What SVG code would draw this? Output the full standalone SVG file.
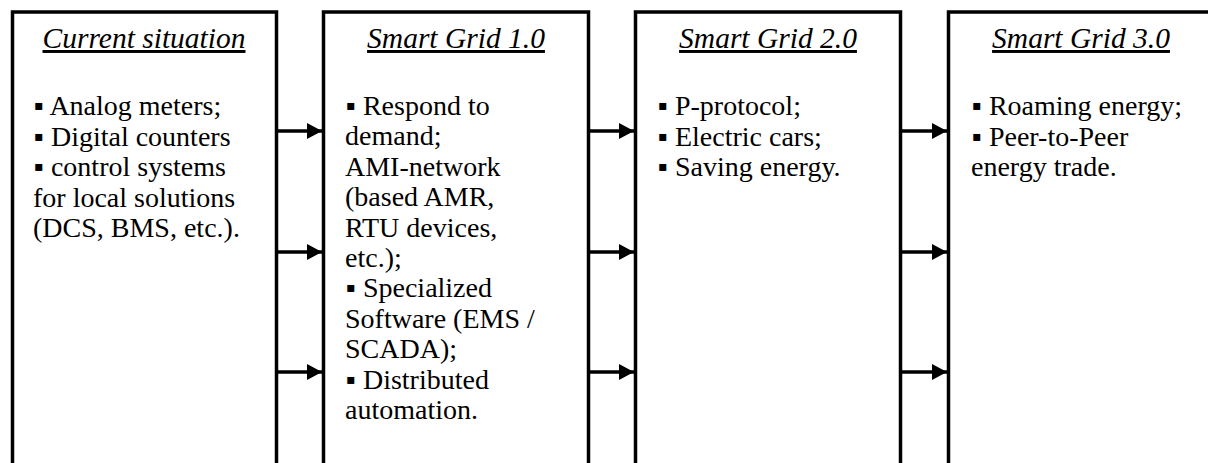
<svg xmlns="http://www.w3.org/2000/svg" width="1208" height="463" viewBox="0 0 1208 463">
<style>
.box{fill:#fff;stroke:#000;stroke-width:3.5}
.t{font-family:"Liberation Serif","Times New Roman",serif;font-size:28px;fill:#000}
.h{font-size:29.5px;font-style:italic;text-decoration:underline;text-anchor:middle}
.c{stroke:#000;stroke-width:3.5;fill:none}
</style>
<defs>
<marker id="ah" markerUnits="userSpaceOnUse" markerWidth="16" markerHeight="16" refX="15" refY="8" orient="auto">
<path d="M0,0 L15,8 L0,16 Z" fill="#000"/>
</marker>
</defs>
<rect width="1208" height="463" fill="#fff"/>
<g id="current">
<rect class="box" x="12.5" y="12" width="264" height="480"/>
<text class="t h" x="144" y="48">Current situation</text>
<text class="t"><tspan x="34" y="115">▪ Analog meters;</tspan><tspan x="34" y="145.6">▪ Digital counters</tspan><tspan x="34" y="176.2">▪ control systems</tspan><tspan x="33" y="206.8">for local solutions</tspan><tspan x="33" y="237.4">(DCS, BMS, etc.).</tspan></text>
</g>
<g id="sg1">
<rect class="box" x="323.5" y="12" width="265" height="480"/>
<text class="t h" x="456" y="48">Smart Grid 1.0</text>
<text class="t"><tspan x="346" y="115">▪ Respond to</tspan><tspan x="345" y="145.4">demand;</tspan><tspan x="345" y="175.8">AMI-network</tspan><tspan x="345" y="206.2">(based AMR,</tspan><tspan x="345" y="236.6">RTU devices,</tspan><tspan x="345" y="267">etc.);</tspan><tspan x="346" y="297.4">▪ Specialized</tspan><tspan x="345" y="327.8">Software (EMS /</tspan><tspan x="345" y="358.2">SCADA);</tspan><tspan x="346" y="388.6">▪ Distributed</tspan><tspan x="345" y="419">automation.</tspan></text>
</g>
<g id="sg2">
<rect class="box" x="635.5" y="12" width="265" height="480"/>
<text class="t h" x="768" y="48">Smart Grid 2.0</text>
<text class="t"><tspan x="658" y="115">▪ P-protocol;</tspan><tspan x="658" y="145.6">▪ Electric cars;</tspan><tspan x="658" y="176.2">▪ Saving energy.</tspan></text>
</g>
<g id="sg3">
<rect class="box" x="948.5" y="12" width="300" height="480"/>
<text class="t h" x="1081" y="48">Smart Grid 3.0</text>
<text class="t"><tspan x="972" y="115">▪ Roaming energy;</tspan><tspan x="972" y="145.6">▪ Peer-to-Peer</tspan><tspan x="971" y="176.2">energy trade.</tspan></text>
</g>
<g id="connectors">
<line class="c" x1="276.5" y1="131" x2="322" y2="131" marker-end="url(#ah)"/>
<line class="c" x1="276.5" y1="252" x2="322" y2="252" marker-end="url(#ah)"/>
<line class="c" x1="276.5" y1="372" x2="322" y2="372" marker-end="url(#ah)"/>
<line class="c" x1="588.5" y1="131" x2="634" y2="131" marker-end="url(#ah)"/>
<line class="c" x1="588.5" y1="252" x2="634" y2="252" marker-end="url(#ah)"/>
<line class="c" x1="588.5" y1="372" x2="634" y2="372" marker-end="url(#ah)"/>
<line class="c" x1="900.5" y1="131" x2="947" y2="131" marker-end="url(#ah)"/>
<line class="c" x1="900.5" y1="252" x2="947" y2="252" marker-end="url(#ah)"/>
<line class="c" x1="900.5" y1="372" x2="947" y2="372" marker-end="url(#ah)"/>
</g>
</svg>
